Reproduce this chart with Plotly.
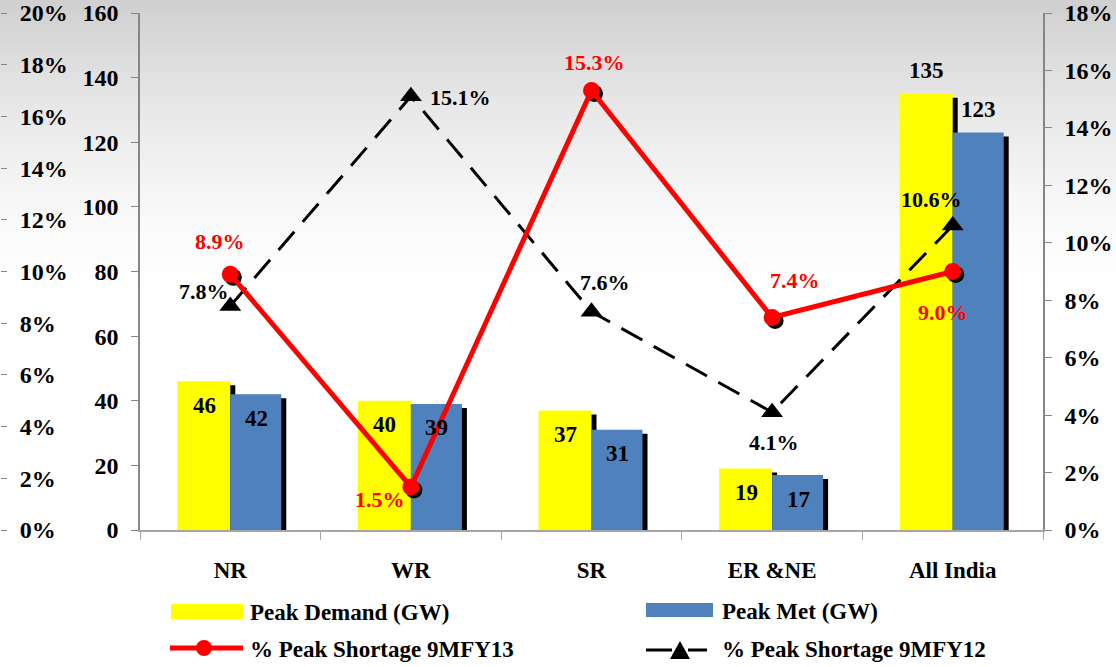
import plotly.graph_objects as go

# ---------------- data ----------------
categories = ["NR", "WR", "SR", "ER &NE", "All India"]
peak_demand = [46, 40, 37, 19, 135]
peak_met = [42, 39, 31, 17, 123]
shortage_fy13 = [8.9, 1.5, 15.3, 7.4, 9.0]
shortage_fy12 = [7.8, 15.1, 7.6, 4.1, 10.6]
bar_ticks = [0, 20, 40, 60, 80, 100, 120, 140, 160]
right_pct_ticks = [0, 2, 4, 6, 8, 10, 12, 14, 16, 18]
left_pct_ticks = [0, 2, 4, 6, 8, 10, 12, 14, 16, 18, 20]
legend_labels = ["Peak Demand (GW)", "Peak Met (GW)",
                 "% Peak Shortage 9MFY13", "% Peak Shortage 9MFY12"]

# ---------------- style ----------------
W, H = 1116, 667
X0, X1 = 140, 1043        # plot area left/right (px)
YT, YB = 13, 530          # plot area top/bottom (px)
FONT = "Liberation Serif, 'Times New Roman', serif"
YELLOW = "#ffff00"
BLUE = "#4f81bd"
RED = "#ff0000"
AXIS_GRAY = "#868686"

cat_px = (X1 - X0) / len(categories)
w_y = 53 / cat_px
w_b = 51 / cat_px
sh_dx = 5 / cat_px
sh_dy = 4 * 160 / (YB - YT)
mk_dx = 3 / cat_px
mk_dy = 3 * 18 / (YB - YT)

xdom = [X0 / W, X1 / W]
ydom = [(H - YB) / H, (H - YT) / H]

bar_label_pos = ["inside", "inside", "inside", "inside", "outside"]
red_shift = [(-10, 33), (-31, -13), (3, 28), (23, 37), (-10, -41)]
blk_shift = [(-26, 14), (50, -1), (13, 29), (2, -30), (-21, 26)]

fig = go.Figure()

# bar shadows
fig.add_trace(go.Bar(x=categories, y=peak_demand, base=-sh_dy, offset=-w_y + sh_dx,
                     width=w_y, marker=dict(color="black", line=dict(width=0)),
                     hoverinfo="skip", showlegend=False))
fig.add_trace(go.Bar(x=categories, y=peak_met, base=-sh_dy, offset=sh_dx,
                     width=w_b, marker=dict(color="black", line=dict(width=0)),
                     hoverinfo="skip", showlegend=False))
# bars
fig.add_trace(go.Bar(x=categories, y=peak_demand, offset=-w_y, width=w_y,
                     name=legend_labels[0],
                     marker=dict(color=YELLOW, line=dict(width=0)), showlegend=False))
fig.add_trace(go.Bar(x=categories, y=peak_met, offset=0, width=w_b,
                     name=legend_labels[1],
                     marker=dict(color=BLUE, line=dict(width=0)), showlegend=False))

# marker shadows for red series
fig.add_trace(go.Scatter(x=categories, y=shortage_fy13, xaxis="x3", yaxis="y3",
                         mode="markers", marker=dict(color="black", size=17),
                         hoverinfo="skip", showlegend=False))
# lines
fig.add_trace(go.Scatter(x=categories, y=shortage_fy12, xaxis="x4", yaxis="y2",
                         mode="lines+markers", name=legend_labels[3],
                         line=dict(color="black", width=3, dash="24px,13px"),
                         marker=dict(symbol="triangle-up", size=19, color="black"),
                         showlegend=False))
fig.add_trace(go.Scatter(x=categories, y=shortage_fy13, xaxis="x4", yaxis="y2",
                         mode="lines+markers", name=legend_labels[2],
                         line=dict(color=RED, width=5),
                         marker=dict(symbol="circle", size=17, color=RED),
                         showlegend=False))
# empty trace so the outer-left percentage axis gets its own subplot
fig.add_trace(go.Scatter(x=[], y=[], xaxis="x", yaxis="y4", showlegend=False,
                         hoverinfo="skip"))

annotations = []
# bar value labels
for vals, xs in ((peak_demand, -26), (peak_met, 26)):
    for c, v, pos in zip(categories, vals, bar_label_pos):
        annotations.append(dict(x=c, y=v, xref="x", yref="y", text=f"<b>{v:.0f}</b>",
                                showarrow=False, xshift=xs,
                                yshift=-24 if pos == "inside" else 23,
                                font=dict(family=FONT, size=23, color="black")))
# line labels
for vals, shifts, col in ((shortage_fy13, red_shift, RED), (shortage_fy12, blk_shift, "black")):
    for c, v, (dx, dy) in zip(categories, vals, shifts):
        annotations.append(dict(x=c, y=v, xref="x", yref="y2", text=f"<b>{v:.1f}%</b>",
                                showarrow=False, xshift=dx, yshift=dy,
                                font=dict(family=FONT, size=22, color=col)))


def px(x):
    return x / W


def py(y):
    return 1 - y / H


shapes = []
# background gradient
band = 6
for y in range(0, 306, band):
    t = max(0.0, 1 - (y + band / 2) / 303)
    g = int(round(255 - 48 * t ** 1.6))
    shapes.append(dict(type="rect", xref="paper", yref="paper", layer="below",
                       x0=0, x1=1, y0=py(y + band), y1=py(y),
                       fillcolor=f"rgb({g},{g},{g})", line=dict(width=0)))

# manual legend
shapes.append(dict(type="rect", xref="paper", yref="paper", x0=px(171), x1=px(243),
                   y0=py(619), y1=py(604), fillcolor=YELLOW, line=dict(width=0)))
shapes.append(dict(type="rect", xref="paper", yref="paper", x0=px(646), x1=px(713),
                   y0=py(617), y1=py(603), fillcolor=BLUE, line=dict(width=0)))
shapes.append(dict(type="line", xref="paper", yref="paper", x0=px(170), x1=px(243),
                   y0=py(648), y1=py(648), line=dict(color=RED, width=5)))
shapes.append(dict(type="circle", xref="paper", yref="paper", x0=px(196), x1=px(212),
                   y0=py(656), y1=py(640), fillcolor=RED, line=dict(width=0)))
shapes.append(dict(type="line", xref="paper", yref="paper", x0=px(646), x1=px(672),
                   y0=py(650), y1=py(650), line=dict(color="black", width=3)))
shapes.append(dict(type="line", xref="paper", yref="paper", x0=px(688), x1=px(707),
                   y0=py(650), y1=py(650), line=dict(color="black", width=3)))
shapes.append(dict(type="path", xref="paper", yref="paper",
                   path=f"M{px(670)},{py(659)} L{px(690)},{py(659)} L{px(680)},{py(641)} Z",
                   fillcolor="black", line=dict(width=0)))

leg_font = dict(family=FONT, size=23, color="black")
for (lx, ly), lab in zip([(248, 612), (720, 611), (248, 649), (720, 649)], legend_labels):
    annotations.append(dict(x=px(lx), y=py(ly), xref="paper", yref="paper", text=f"<b>{lab}</b>",
                            showarrow=False, xanchor="left", yanchor="middle", font=leg_font))

tick_font = dict(family=FONT, size=24, color="black", weight="bold")

fig.update_layout(
    template="none",
    width=W, height=H, autosize=False,
    margin=dict(l=0, r=0, t=0, b=0, pad=0, autoexpand=False),
    paper_bgcolor="white", plot_bgcolor="rgba(0,0,0,0)",
    font=dict(family=FONT),
    barmode="overlay", showlegend=False,
    shapes=shapes, annotations=annotations,
    xaxis=dict(type="category", categoryorder="array", categoryarray=categories,
               domain=xdom, range=[-0.5, 4.5], anchor="y", automargin=False,
               showline=True, linecolor="#a6a6a6", linewidth=1.5,
               ticks="outside", tickson="boundaries", ticklen=8, tickcolor="#a6a6a6",
               tickfont=dict(family=FONT, size=23, color="black", weight="bold"),
               ticklabelstandoff=19, showgrid=False, zeroline=False),
    yaxis=dict(domain=ydom, range=[0, 160], anchor="x", side="left", automargin=False,
               showline=True, linecolor=AXIS_GRAY, linewidth=1.5,
               ticks="outside", ticklen=7, tickcolor=AXIS_GRAY,
               tickmode="array", tickvals=bar_ticks, ticktext=[str(v) for v in bar_ticks],
               tickfont=tick_font, ticklabelstandoff=8, showgrid=False, zeroline=False),
    yaxis2=dict(overlaying="y", anchor="x", side="right", range=[0, 18], automargin=False,
                showline=True, linecolor=AXIS_GRAY, linewidth=1.5,
                ticks="outside", ticklen=7, tickcolor=AXIS_GRAY,
                tickmode="array", tickvals=right_pct_ticks,
                ticktext=[f"{v}%" for v in right_pct_ticks],
                tickfont=tick_font, ticklabelstandoff=8, showgrid=False, zeroline=False),
    xaxis3=dict(overlaying="x", anchor="y", type="category", categoryorder="array",
                categoryarray=categories, range=[-0.5 - mk_dx, 4.5 - mk_dx], visible=False),
    yaxis3=dict(overlaying="y", anchor="x", range=[mk_dy, 18 + mk_dy], visible=False),
    xaxis4=dict(overlaying="x", anchor="y", type="category", categoryorder="array",
                categoryarray=categories, range=[-0.5, 4.5], visible=False),
    yaxis4=dict(overlaying="y", anchor="free", position=0, side="right", range=[0, 20],
                automargin=False, showline=False, ticks="outside", ticklen=6,
                tickcolor=AXIS_GRAY, tickmode="array", tickvals=left_pct_ticks,
                ticktext=[f"{v}%" for v in left_pct_ticks], tickfont=tick_font,
                ticklabelstandoff=8, showgrid=False, zeroline=False),
    yaxis5=dict(overlaying="y", anchor="x", side="left", range=[0, 160], automargin=False,
                showline=False, ticks="inside", ticklen=7, tickcolor=AXIS_GRAY,
                tickmode="array", tickvals=bar_ticks, showticklabels=False,
                showgrid=False, zeroline=False),
    yaxis6=dict(overlaying="y", anchor="x", side="right", range=[0, 18], automargin=False,
                showline=False, ticks="inside", ticklen=7, tickcolor=AXIS_GRAY,
                tickmode="array", tickvals=right_pct_ticks, showticklabels=False,
                showgrid=False, zeroline=False),
    xaxis5=dict(overlaying="x", anchor="y", side="bottom", range=[-0.5, 4.5],
                automargin=False, showline=False, ticks="inside", ticklen=7,
                tickcolor="#a6a6a6", tickmode="array",
                tickvals=[i - 0.5 for i in range(len(categories) + 1)],
                showticklabels=False, showgrid=False, zeroline=False),
)

fig.write_html("out.html", config={"displayModeBar": False},
               post_script="document.body.style.margin='0';document.body.style.overflow='hidden';")
